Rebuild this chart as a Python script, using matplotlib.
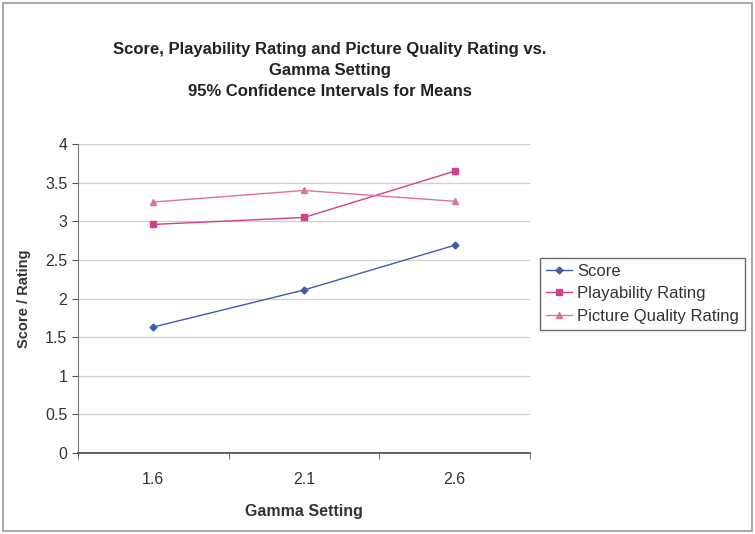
import matplotlib.pyplot as plt
from matplotlib.patches import Rectangle

plt.rcParams['font.family'] = ['Liberation Sans', 'DejaVu Sans']

# Data
gamma = ['1.6', '2.1', '2.6']
score = [1.63, 2.11, 2.69]
playability = [2.96, 3.05, 3.65]
picture_quality = [3.25, 3.40, 3.26]

fig = plt.figure(figsize=(7.55, 5.34), dpi=100)
fig.patches.append(Rectangle((0.004, 0.006), 0.992, 0.988, transform=fig.transFigure,
                             fill=False, edgecolor='#9a9a9a', linewidth=1.2))

ax = fig.add_axes([0.103, 0.152, 0.599, 0.578])
x = range(len(gamma))
ax.plot(x, score, color='#3f5da8', marker='D', markersize=3.5, linewidth=1,
        label='Score')
ax.plot(x, playability, color='#d2408a', marker='s', markersize=4.5, linewidth=1,
        label='Playability Rating')
ax.plot(x, picture_quality, color='#e0709e', marker='^', markersize=4.5, linewidth=1,
        label='Picture Quality Rating')

ax.set_xlim(-0.5, 2.5)
ax.set_ylim(0, 4)
ax.set_yticks([0, 0.5, 1, 1.5, 2, 2.5, 3, 3.5, 4])
ax.set_yticklabels(['0', '0.5', '1', '1.5', '2', '2.5', '3', '3.5', '4'])
ax.set_xticks(list(x))
ax.set_xticklabels(gamma)
ax.set_xticks([-0.5, 0.5, 1.5, 2.5], minor=True)
ax.tick_params(axis='x', which='major', length=0, pad=14, labelsize=11.5, colors='#333333')
ax.tick_params(axis='x', which='minor', length=4, color='#555555')
ax.tick_params(axis='y', length=4, labelsize=11.5, colors='#333333', color='#555555')
ax.grid(axis='y', color='#cfcfcf', linewidth=0.9)
ax.set_axisbelow(True)
for side in ['top', 'right']:
    ax.spines[side].set_visible(False)
ax.spines['left'].set_color('#777777')
ax.spines['bottom'].set_color('#444444')
ax.spines['bottom'].set_linewidth(1.2)

ax.set_xlabel('Gamma Setting', fontsize=11.5, fontweight='bold', color='#333333', labelpad=12)
ax.set_ylabel('Score / Rating', fontsize=10.5, fontweight='bold', color='#333333', labelpad=10)

fig.text(0.437, 0.868, 'Score, Playability Rating and Picture Quality Rating vs.\n'
         'Gamma Setting\n95% Confidence Intervals for Means',
         ha='center', va='center', fontsize=12, fontweight='bold', color='#222222',
         linespacing=1.5)

leg = fig.legend(loc='upper left', bbox_to_anchor=(0.715, 0.517), frameon=True,
                 fancybox=False, edgecolor='#444444', fontsize=12, handlelength=1.6,
                 handletextpad=0.3, borderpad=0.35, labelspacing=0.45, borderaxespad=0)
for t in leg.get_texts():
    t.set_color('#333333')

fig.savefig('out.png', dpi=100)
